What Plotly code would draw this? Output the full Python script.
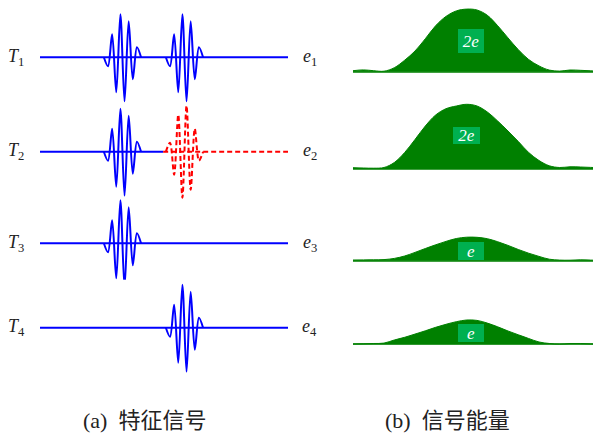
"""
Feature signals and their energy envelopes, two panels
"""
import plotly.graph_objects as go

# ---- data ----
# left panel: sample axis of the feature signals
t_start, t_end = 0, 60
early_onset = 16.45   # first extreme of the early burst
late_onset = 31.45    # first extreme of the late burst
red_split = 29.8      # T2 switches to the dashed red trace here

# amplitude of every half-cycle extreme of one burst
wavelet_blue = [-9, 23, -35, 43, -44, 36, -22, 10]
wavelet_red = [9, -23, 37, -46, 46, -38, 23, -9]

signal_names = ["T<sub>1</sub>", "T<sub>2</sub>", "T<sub>3</sub>", "T<sub>4</sub>"]
energy_names = ["e<sub>1</sub>", "e<sub>2</sub>", "e<sub>3</sub>", "e<sub>4</sub>"]

# right panel: energy envelope sampled at 25 equally spaced points
energy_1 = [1, 1.8, 1, 0.5, 4, 11.5, 20.7, 33, 46, 55.3, 60.8, 62.6, 61.7,
            56.4, 46, 33.8, 22, 12.2, 5.8, 1.6, 0.6, 1.7, 1.4, 0.9, 0.3]
energy_2 = [1.3, 1, 0.8, 1.5, 6.5, 16.5, 29.5, 43, 54, 60.3, 63, 64.7, 63,
            57, 48, 38, 27.5, 16.5, 8.5, 3.2, 1.5, 2.2, 2, 1.6, 1.2]
energy_3 = [0.7, 0.8, 0.9, 1.1, 2.3, 4.7, 8.3, 12.2, 15.9, 19.3, 22.2, 23.5, 23.4,
            22, 19, 15.3, 11.2, 7.5, 4.3, 1.5, 0.6, 0.5, 0.9, 0.6, 0.3]
energy_4 = [0.3, 0.5, 0.8, 1.2, 4.3, 7, 10.2, 13.5, 17, 20, 22.6, 24.3, 23.9,
            21.2, 17.5, 13.3, 9.5, 5.8, 2.3, 0.8, 0.1, 0.8, 0.8, 0.4, 0]
energy_labels = ["2e", "2e", "e", "e"]

captions = ["(a)\u00a0\u00a0特征信号", "(b)\u00a0\u00a0信号能量"]

# ---- layout helpers ----
# the page body has an 8px margin, so the figure is 8px smaller and
# reference pixel positions are shifted by that offset
PAD = 8
W, H = 601 - PAD, 435 - PAD
left_px = (40, 288)
right_px = (353, 601)
sig_base = [57.3, 151.7, 243.3, 327.7]
eng_base = [71.7, 169, 260.7, 344.3]
sig_half = 48
eng_lo = -3
box_pos = [(11.42, 30.7, 26, 24), (10.97, 33.7, 27, 17),
           (11.42, 10.2, 26, 18), (11.42, 11.3, 26, 18)]

BLUE, RED, GREEN, BOX = "#0000ff", "#ff0000", "#008000", "#00b050"
SERIF = "Liberation Serif, Times New Roman, serif"


def px_x(px):
    return (px - PAD) / W


def px_y(py):
    return 1 - (py - PAD) / H


def burst(onset, amps):
    xs = [onset - 1] + [onset + i for i in range(len(amps))] + [onset + len(amps)]
    ys = [0] + list(amps) + [0]
    return xs, ys


fig = go.Figure()
layout = dict(width=W, height=H, margin=dict(l=0, r=0, t=0, b=0),
              paper_bgcolor="white", plot_bgcolor="white", showlegend=False)
annotations = []

eb = burst(early_onset, wavelet_blue)
lb = burst(late_onset, wavelet_blue)
lr = burst(late_onset, wavelet_red)

# per row: flat baseline pieces (x0, x1, colour, dash) and bursts (xs/ys, colour, dash)
baselines = [
    [(t_start, t_end, BLUE, "solid")],
    [(t_start, red_split, BLUE, "solid"), (red_split, t_end, RED, "5px,3px")],
    [(t_start, t_end, BLUE, "solid")],
    [(t_start, t_end, BLUE, "solid")],
]
bursts = [
    [(eb, BLUE, "solid"), (lb, BLUE, "solid")],
    [(eb, BLUE, "solid"), (lr, RED, "5px,3px")],
    [(eb, BLUE, "solid")],
    [(lb, BLUE, "solid")],
]
energies = [energy_1, energy_2, energy_3, energy_4]

for i in range(4):
    # left column: feature signal
    n = 2 * i + 1
    xa, ya = f"x{n}", f"y{n}"
    for x0, x1, col, dash in baselines[i]:
        fig.add_trace(go.Scatter(x=[x0, x1], y=[0, 0], xaxis=xa, yaxis=ya, mode="lines",
                                 line=dict(color=col, width=2, dash=dash), hoverinfo="skip"))
    for (xs, ys), col, dash in bursts[i]:
        fig.add_trace(go.Scatter(x=xs, y=ys, xaxis=xa, yaxis=ya, mode="lines",
                                 line=dict(color=col, width=2, dash=dash, shape="spline",
                                           smoothing=0.9),
                                 hoverinfo="skip"))
    layout[f"xaxis{n}"] = dict(domain=[px_x(left_px[0]), px_x(left_px[1])],
                               range=[t_start, t_end], visible=False, anchor=ya)
    layout[f"yaxis{n}"] = dict(domain=[px_y(sig_base[i] + sig_half), px_y(sig_base[i] - sig_half)],
                               range=[-sig_half, sig_half], visible=False, anchor=xa)
    for label, lx in ((signal_names[i], 16), (energy_names[i], 310)):
        annotations.append(dict(xref="paper", yref="paper", x=px_x(lx), y=px_y(sig_base[i]),
                                xanchor="center", yanchor="middle", showarrow=False,
                                text=f"<i>{label[0]}</i>{label[1:]}",
                                font=dict(family=SERIF, size=18, color="#222")))

    # right column: energy envelope
    m = 2 * i + 2
    xb, yb = f"x{m}", f"y{m}"
    e = energies[i]
    eng_hi = min(67, eng_base[i] - PAD)
    fig.add_trace(go.Scatter(x=list(range(len(e))), y=e, xaxis=xb, yaxis=yb, mode="lines",
                             fill="tozeroy", fillcolor=GREEN,
                             line=dict(color=GREEN, width=1, shape="spline"),
                             hoverinfo="skip"))
    layout[f"xaxis{m}"] = dict(domain=[px_x(right_px[0]), px_x(right_px[1])],
                               range=[0, len(e) - 1], visible=False, anchor=yb)
    layout[f"yaxis{m}"] = dict(domain=[px_y(eng_base[i] - eng_lo), px_y(eng_base[i] - eng_hi)],
                               range=[eng_lo, eng_hi], showgrid=False, showticklabels=False,
                               ticks="", showline=False, zeroline=True,
                               zerolinecolor="#3f9f3f", zerolinewidth=1.5, anchor=xb)
    bx, by, bw, bh = box_pos[i]
    annotations.append(dict(xref=xb, yref=yb, x=bx, y=by, showarrow=False,
                            text=f"<i>{energy_labels[i]}</i>", width=bw, height=bh,
                            bgcolor=BOX, borderpad=0, borderwidth=0,
                            font=dict(family=SERIF, size=17, color="white")))

for cap, cx in zip(captions, [144, 447]):
    annotations.append(dict(xref="paper", yref="paper", x=px_x(cx), y=px_y(420),
                            xanchor="center", yanchor="middle", showarrow=False, text=cap,
                            font=dict(family="Liberation Serif, Noto Sans CJK SC", size=22,
                                      color="#222")))

layout["annotations"] = annotations
fig.update_layout(**layout)

fig.write_html("out.html")
